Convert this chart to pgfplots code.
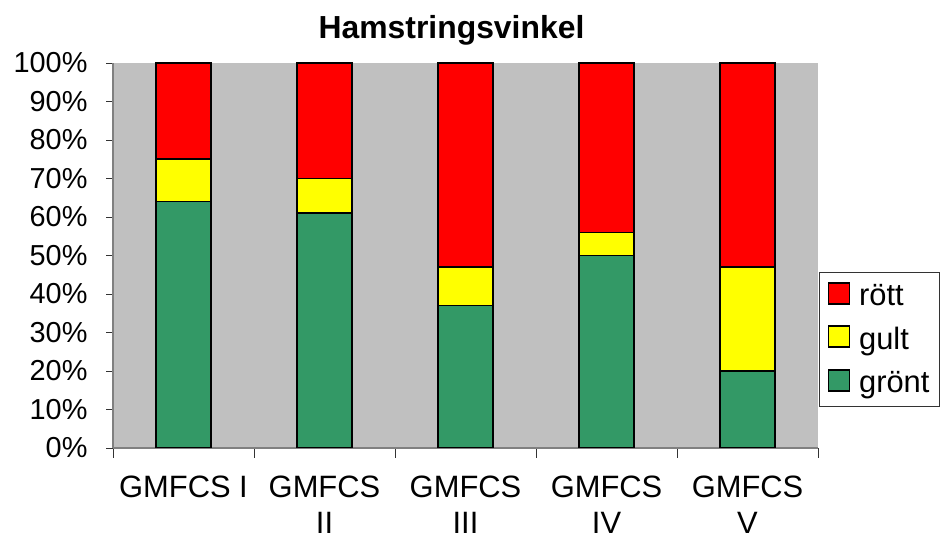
\documentclass[border=0pt]{standalone}
\usepackage{fontspec}
\setmainfont{Liberation Sans}
\usepackage{pgfplots}
\pgfplotsset{compat=1.18}
\definecolor{cred}{HTML}{FF0000}
\definecolor{cyel}{HTML}{FFFF00}
\definecolor{cgreen}{HTML}{339966}
\definecolor{plotbg}{HTML}{C0C0C0}
\definecolor{axgray}{HTML}{808080}
\begin{document}
\begin{tikzpicture}[x=1bp,y=1bp]
\path[use as bounding box] (0,0) rectangle (940,544);
\begin{axis}[
 at={(113bp,96bp)}, anchor=south west,
 scale only axis, width=705bp, height=385bp,
 ybar stacked, bar width=55bp,
 xmin=-0.5, xmax=4.5, ymin=0, ymax=100,
 axis background/.style={fill=plotbg},
 axis x line*=bottom, axis y line*=left,
 axis line style={draw=axgray, line width=1.2bp},
 tick align=outside,
 xtick={0,1,2,3,4},
 xticklabels={GMFCS I, GMFCS\\II, GMFCS\\III, GMFCS\\IV, GMFCS\\V},
 major x tick style={draw=none},
 minor xtick={-0.5,0.5,1.5,2.5,3.5,4.5},
 minor tick length=10bp,
 minor x tick style={draw=black!80, line width=0.8bp},
 ytick={0,10,...,100},
 yticklabel={\pgfmathprintnumber{\tick}\%},
 major tick length=7bp,
 y tick style={draw=black!80, line width=0.8bp},
 /pgf/number format/assume math mode=true,
 yticklabel style={font=\fontsize{29}{34}\selectfont, xshift=-15bp},
 xticklabel style={font=\fontsize{31}{37}\selectfont, align=center, yshift=-17bp},
 title={Hamstringsvinkel},
 title style={font=\fontsize{32}{36}\selectfont\bfseries, yshift=8bp, xshift=-14bp},
 legend style={at={(1.002,0.108)}, anchor=south west, draw=black!80, fill=white,
   font=\fontsize{31}{34}\selectfont, row sep=16bp, inner xsep=8bp, inner ysep=10bp,
   legend cell align=left},
 legend image code/.code={\draw[#1, line width=1.5bp] (0bp,-8bp) rectangle (21bp,13bp);
   \path (28bp,0bp);},
 reverse legend,
 every axis plot/.append style={draw=black, line width=1.5bp},
]
\addplot[fill=cgreen] coordinates {(0,64) (1,61) (2,37) (3,50) (4,20)};
\addplot[fill=cyel] coordinates {(0,11) (1,9) (2,10) (3,6) (4,27)};
\addplot[fill=cred] coordinates {(0,25) (1,30) (2,53) (3,44) (4,53)};
\legend{grönt, gult, rött}
\end{axis}
\end{tikzpicture}
\end{document}
